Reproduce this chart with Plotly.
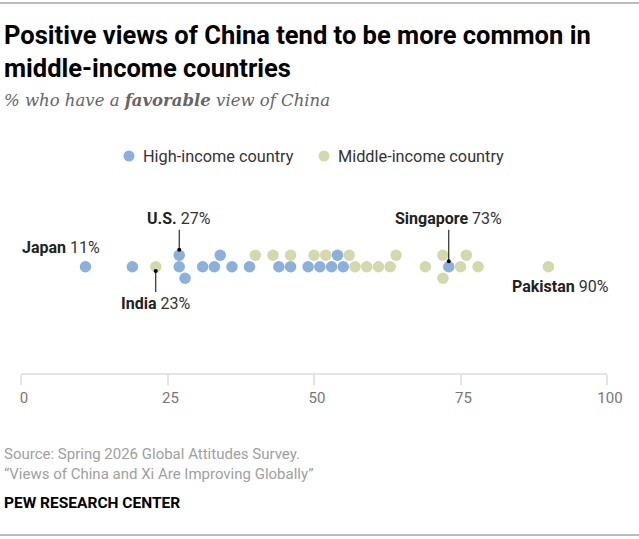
import plotly.graph_objects as go

# ---------------- data ----------------
high_income = [11, 19, 27, 27, 28, 31, 33, 34, 36, 39, 44, 46, 49, 51, 53, 54, 55, 73]
middle_income = [23, 40, 43, 46, 50, 52, 56, 57, 59, 61, 63, 64, 69, 72, 72, 75, 76, 78, 90]
group_names = ["High-income country", "Middle-income country"]
x_ticks = [0, 25, 50, 75, 100]

label_names = ["Japan", "U.S.", "India", "Singapore", "Pakistan"]
label_values = [11, 27, 23, 73, 90]
label_groups = ["high", "high", "middle", "high", "middle"]
label_sides = ["left", "above", "below", "above", "right"]

title_text = "Positive views of China tend to be more common in<br>middle-income countries"
subtitle_text = "% who have a <b>favorable</b> view of China"
source_text = ("Source: Spring 2026 Global Attitudes Survey.<br>"
               "\u201cViews of China and Xi Are Improving Globally\u201d")
credit_text = "PEW RESEARCH CENTER"

# ---------------- style / layout ----------------
W, H = 639, 539
L, R = 21, 32
PLOT_TOP, PLOT_BOTTOM = 190, 373
MID_Y = 266.7
plot_w = W - L - R
plot_h = PLOT_BOTTOM - PLOT_TOP
px_per_unit = plot_w / 100.0

BLUE = "#8AB1DD"
GREEN = "#D3D9AB"
DOT = 11.5
ROW = 11.5

def paper_x(xpx):
    return (xpx - L) / plot_w

def paper_y(ypx):
    return (PLOT_BOTTOM - ypx) / plot_h

# simple greedy beeswarm: middle row first, then above, then below
placed = []  # (x_px, y_offset)
def place(v):
    xp = v * px_per_unit
    for off in (0.0, ROW, -ROW):
        if all(not (abs(xp - q) < DOT - 0.3 and o == off) for q, o in placed):
            placed.append((xp, off))
            return off
    placed.append((xp, ROW * 2))
    return ROW * 2

high_y = [place(v) for v in high_income]
mid_y = [place(v) for v in middle_income]

fig = go.Figure()
fig.add_trace(go.Scatter(x=high_income, y=high_y, mode="markers",
                         marker=dict(size=DOT, color=BLUE, line=dict(width=0)),
                         name=group_names[0], hoverinfo="x"))
fig.add_trace(go.Scatter(x=middle_income, y=mid_y, mode="markers",
                         marker=dict(size=DOT, color=GREEN, line=dict(width=0)),
                         name=group_names[1], hoverinfo="x"))

LABEL_FONT = dict(family="Roboto, sans-serif", size=16, color="#222222")
annotations = []
groups = {"high": (high_income, high_y), "middle": (middle_income, mid_y)}
for name, val, grp, side in zip(label_names, label_values, label_groups, label_sides):
    xs, ys = groups[grp]
    cands = [y for x, y in zip(xs, ys) if x == val]
    text = f"<b>{name}</b> <span style='color:#333333'>{val}%</span>"
    if side == "above":
        dy = max(cands)
        annotations.append(dict(x=val, y=dy + DOT / 2 - 0.3, xref="x", yref="y",
                                text=text, showarrow=True, arrowhead=6, arrowsize=1,
                                arrowwidth=1, arrowcolor="#000000",
                                ax=0, ay=-20 - (ROW - dy), yanchor="bottom",
                                font=LABEL_FONT))
    elif side == "below":
        dy = min(cands)
        annotations.append(dict(x=val, y=dy - 4.3, xref="x", yref="y",
                                text=text, showarrow=True, arrowhead=6, arrowsize=1,
                                arrowwidth=1, arrowcolor="#000000",
                                ax=0, ay=21, yanchor="top", font=LABEL_FONT))
    elif side == "left":
        annotations.append(dict(x=val, y=cands[0], xref="x", yref="y", text=text,
                                showarrow=False, xanchor="right", yanchor="middle",
                                xshift=17, yshift=19, font=LABEL_FONT))
    else:
        annotations.append(dict(x=val, y=cands[0], xref="x", yref="y", text=text,
                                showarrow=False, xanchor="left", yanchor="middle",
                                xshift=-38, yshift=-19.5, font=LABEL_FONT))

# titles
annotations.append(dict(x=paper_x(2), y=paper_y(51), xref="paper", yref="paper",
                        text=f"<b>{title_text}</b>", showarrow=False, align="left",
                        xanchor="left", yanchor="middle",
                        font=dict(family="Liberation Sans Narrow, Roboto, sans-serif",
                                  size=25.5, color="#000000")))
annotations.append(dict(x=paper_x(2), y=paper_y(101), xref="paper", yref="paper",
                        text=subtitle_text, showarrow=False, align="left",
                        xanchor="left", yanchor="middle",
                        font=dict(family="DejaVu Serif, serif", size=16.5,
                                  color="#666666", style="italic")))
# legend (manual)
legend_items = [(129, BLUE, group_names[0]), (324, GREEN, group_names[1])]
shapes = []
for cx, col, txt in legend_items:
    shapes.append(dict(type="circle", xref="paper", yref="paper",
                       xsizemode="pixel", ysizemode="pixel",
                       xanchor=paper_x(cx), yanchor=paper_y(156),
                       x0=-5.5, x1=5.5, y0=-5.5, y1=5.5,
                       fillcolor=col, line=dict(width=0)))
    annotations.append(dict(x=paper_x(cx + 12), y=paper_y(156), xref="paper", yref="paper",
                            text=txt, showarrow=False, xanchor="left", yanchor="middle",
                            font=dict(family="Roboto, sans-serif", size=16.3, color="#333333")))
# footer
annotations.append(dict(x=paper_x(2), y=paper_y(463.5), xref="paper", yref="paper",
                        text=source_text, showarrow=False, align="left",
                        xanchor="left", yanchor="middle",
                        font=dict(family="Roboto, sans-serif", size=15, color="#a0a0a0")))
annotations.append(dict(x=paper_x(2), y=paper_y(503), xref="paper", yref="paper",
                        text=f"<b>{credit_text}</b>", showarrow=False, align="left",
                        xanchor="left", yanchor="middle",
                        font=dict(family="Roboto, sans-serif", size=15.5, color="#000000")))
# top and bottom rules
for ypx, col in ((3, "#777777"), (535, "#777777")):
    shapes.append(dict(type="line", xref="paper", yref="paper",
                       x0=paper_x(0), x1=paper_x(W), y0=paper_y(ypx), y1=paper_y(ypx),
                       line=dict(color=col, width=1)))

fig.update_layout(
    width=W, height=H,
    margin=dict(l=L, r=R, t=PLOT_TOP, b=H - PLOT_BOTTOM, pad=0),
    paper_bgcolor="#ffffff", plot_bgcolor="#ffffff",
    showlegend=False,
    annotations=annotations, shapes=shapes,
    xaxis=dict(range=[0, 100], tickvals=x_ticks, ticktext=[str(t) for t in x_ticks],
               showgrid=False, zeroline=False, showline=True, linecolor="#e4e4e4",
               linewidth=2, ticks="outside", ticklen=10, tickwidth=1.5,
               tickcolor="#e4e4e4", fixedrange=True, ticklabelshift=3,
               tickfont=dict(family="Roboto, sans-serif", size=15, color="#777777")),
    yaxis=dict(range=[-(PLOT_BOTTOM - MID_Y), MID_Y - PLOT_TOP], visible=False,
               fixedrange=True),
)

fig.write_html("out.html")
